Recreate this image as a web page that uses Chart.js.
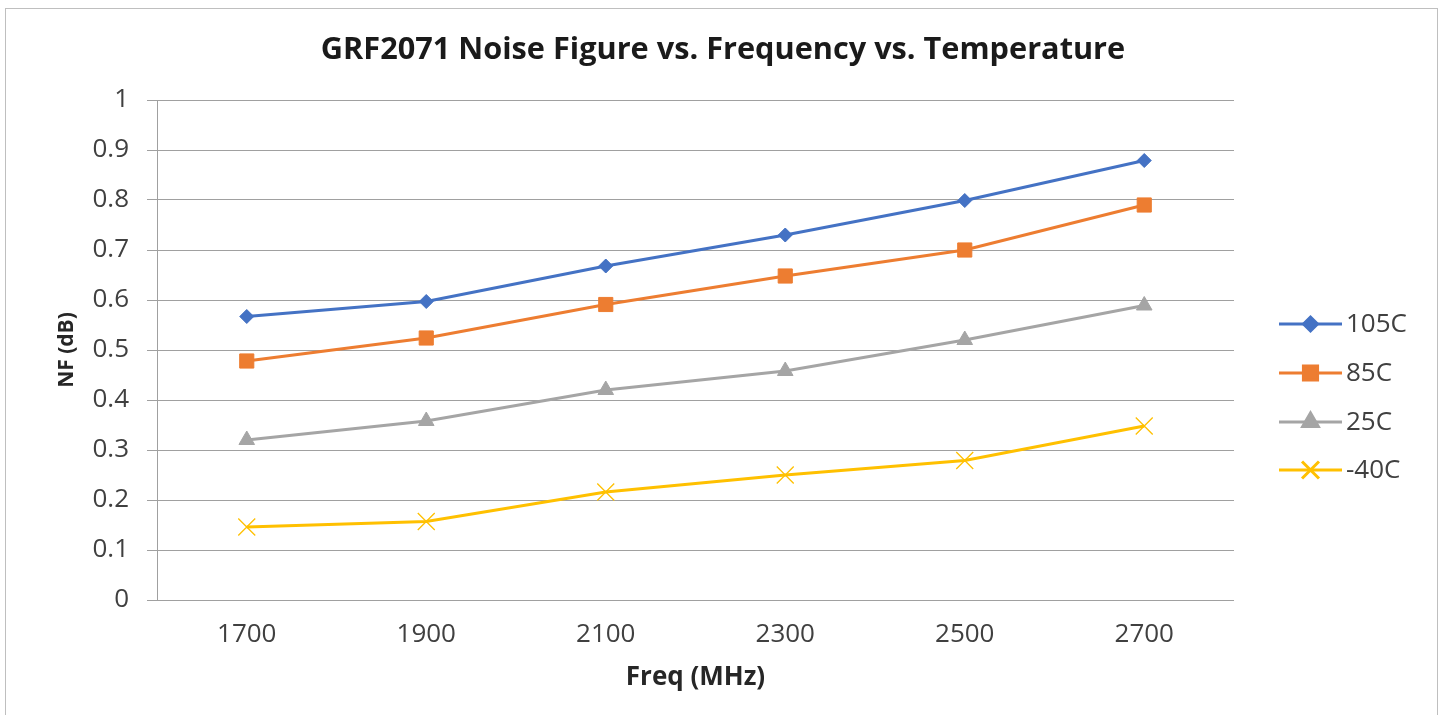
<!DOCTYPE html>
<html>
<head>
<meta charset="utf-8">
<script src="https://cdn.jsdelivr.net/npm/chart.js@4"></script>
<style>
html,body{margin:0;padding:0;background:#fff;}
#wrap{width:1444px;height:715px;position:relative;}
</style>
</head>
<body>
<div id="wrap"><canvas id="c" width="1444" height="715"></canvas></div>
<script>
const categories = ['1700', '1900', '2100', '2300', '2500', '2700'];
const seriesNames = ['105C', '85C', '25C', '-40C'];
const nf105 = [0.567, 0.597, 0.668, 0.730, 0.799, 0.879];
const nf85  = [0.478, 0.524, 0.591, 0.648, 0.700, 0.790];
const nf25  = [0.320, 0.358, 0.420, 0.458, 0.520, 0.589];
const nfM40 = [0.146, 0.157, 0.216, 0.250, 0.279, 0.348];
const yTicks = [0, 0.1, 0.2, 0.3, 0.4, 0.5, 0.6, 0.7, 0.8, 0.9, 1];
const chartTitle = 'GRF2071 Noise Figure vs. Frequency vs. Temperature';
const xTitle = 'Freq (MHz)';
const yTitle = 'NF (dB)';

const FONT = "'Open Sans', 'Noto Sans', sans-serif";
const colors = ['#4472C4', '#ED7D31', '#A5A5A5', '#FFC000'];
const styles = ['rectRot', 'rect', 'triangle', 'crossRot'];
const radii = [7, 10, 9, 12];
const values = [nf105, nf85, nf25, nfM40];

const datasets = seriesNames.map((n, i) => ({
  label: n,
  data: values[i],
  borderColor: colors[i],
  backgroundColor: colors[i],
  borderWidth: 3,
  pointStyle: styles[i],
  pointRadius: radii[i],
  pointHoverRadius: radii[i],
  pointBorderWidth: i === 3 ? 1.3 : 1,
  pointBorderColor: colors[i],
  pointBackgroundColor: colors[i],
  tension: 0
}));

const frame = {
  id: 'frame',
  beforeDraw(chart) {
    const ctx = chart.ctx;
    ctx.save();
    ctx.fillStyle = '#fff';
    ctx.fillRect(0, 0, chart.width, chart.height);
    ctx.strokeStyle = '#bfbfbf';
    ctx.lineWidth = 1;
    ctx.strokeRect(5.5, 8.5, 1432, 720);
    ctx.fillStyle = '#1a1a1a';
    ctx.font = "bold 30.7px " + FONT;
    ctx.textAlign = 'center';
    ctx.textBaseline = 'middle';
    ctx.fillText(chartTitle, 723, 50);
    ctx.restore();
  }
};

const customLegend = {
  id: 'customLegend',
  afterDraw(chart) {
    const ctx = chart.ctx;
    const ys = [324, 373, 422, 470];
    ctx.save();
    chart.data.datasets.forEach((ds, i) => {
      const y = ys[i];
      ctx.strokeStyle = ds.borderColor;
      ctx.fillStyle = ds.borderColor;
      ctx.lineWidth = 3;
      ctx.beginPath();
      ctx.moveTo(1279, y);
      ctx.lineTo(1342, y);
      ctx.stroke();
      Chart.helpers.drawPoint(ctx, {
        pointStyle: ds.pointStyle,
        radius: ds.pointRadius,
        rotation: 0,
        borderWidth: ds.pointBorderWidth
      }, 1310.5, y);
      ctx.fillStyle = '#404040';
      ctx.font = "26px " + FONT;
      ctx.textAlign = 'left';
      ctx.textBaseline = 'middle';
      ctx.fillText(ds.label, 1346, y + 1);
    });
    ctx.restore();
  }
};

new Chart(document.getElementById('c'), {
  type: 'line',
  data: { labels: categories, datasets },
  options: {
    responsive: false,
    animation: false,
    layout: { padding: { left: 40, right: 210, top: 100, bottom: 0 } },
    plugins: {
      legend: { display: false },
      tooltip: { enabled: false },
      title: { display: false }
    },
    scales: {
      x: {
        type: 'category',
        offset: true,
        grid: { display: false, drawTicks: false },
        border: { display: false },
        ticks: { color: '#404040', font: { family: FONT, size: 26 }, padding: 19, maxRotation: 0 },
        title: { display: true, text: xTitle, color: '#262626', font: { family: FONT, size: 26, weight: 'bold' }, padding: { top: 0, bottom: 22 } },
        afterFit(s) { s.height = 115; }
      },
      y: {
        min: 0, max: 1,
        afterBuildTicks(s) { s.ticks = yTicks.map(v => ({ value: v })); },
        grid: { color: '#a0a0a0', lineWidth: 1, tickLength: 10, drawTicks: true },
        border: { display: true, color: '#a0a0a0', width: 1 },
        ticks: { color: '#404040', font: { family: FONT, size: 26 }, padding: 18, callback: v => String(v) },
        title: { display: true, text: yTitle, color: '#262626', font: { family: FONT, size: 21, weight: 'bold' }, padding: { top: 14, bottom: 0 } },
        afterFit(s) { s.width = 117; }
      }
    }
  },
  plugins: [frame, customLegend]
});
</script>
</body>
</html>
